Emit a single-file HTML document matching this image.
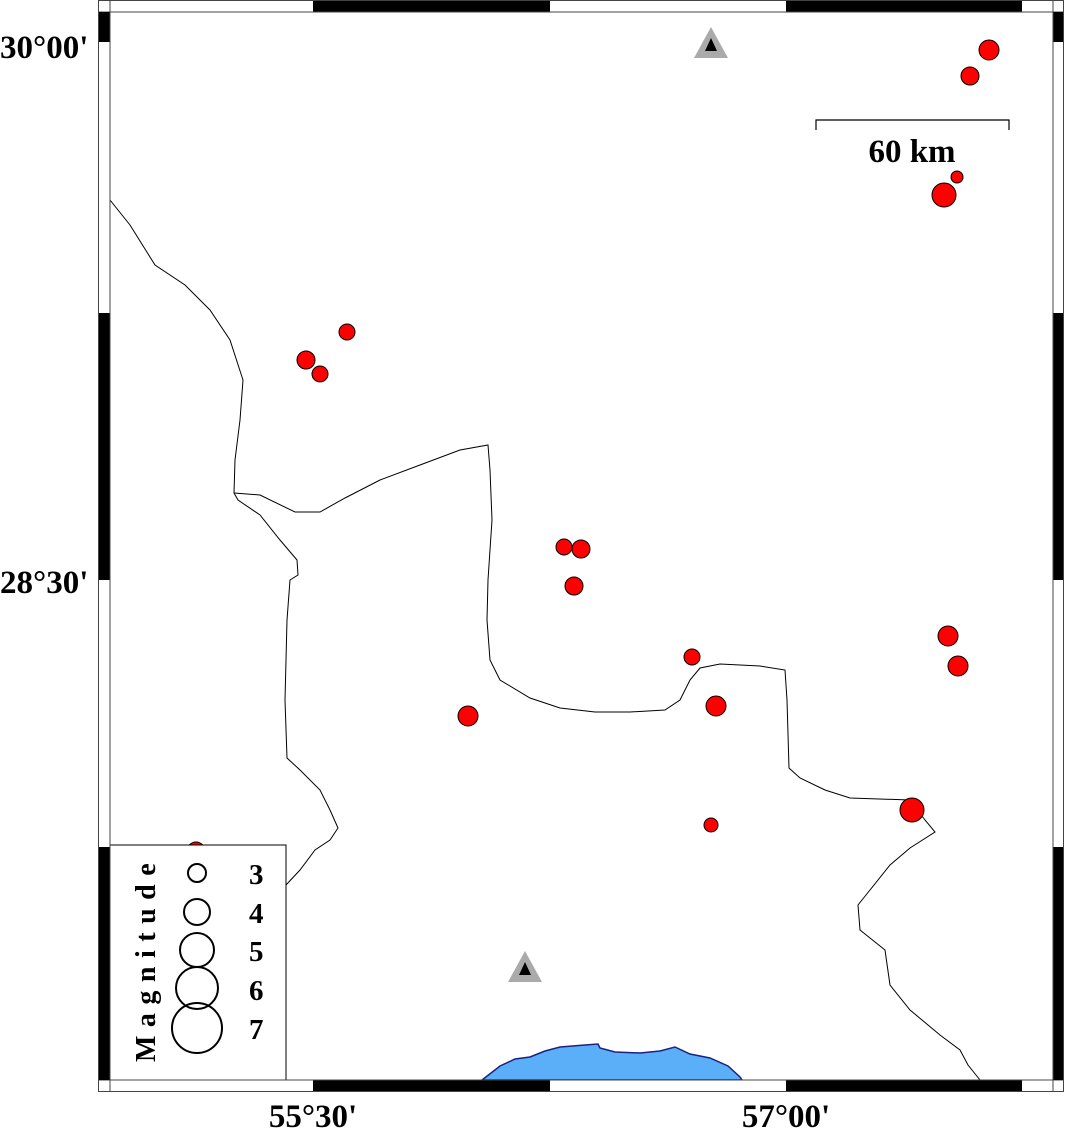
<!DOCTYPE html>
<html><head><meta charset="utf-8"><style>
html,body{margin:0;padding:0;background:#fff;}
svg{display:block;}
text{font-family:"Liberation Serif",serif;font-weight:bold;fill:#000;}
</style></head><body>
<svg width="1066" height="1130" viewBox="0 0 1066 1130" xmlns="http://www.w3.org/2000/svg">
<path d="M482,1080 L500,1066 L515,1059 L530,1057 L545,1051 L560,1047 L585,1045 L598,1044 L600,1048 L615,1052 L640,1053 L660,1051 L675,1047 L690,1054 L710,1058 L728,1066 L740,1077 L742,1080 Z" fill="#5aaff8" stroke="#1a237e" stroke-width="1.5"/>
<polyline fill="none" stroke="#000" stroke-width="1" points="110,200 130,225 155,265 185,285 210,310 230,340 243,380 240,420 235,460 234,493 238,500 260,515 280,540 297,560 298,575 290,580 287,620 285,700 287,758 300,770 320,790 330,810 338,828 330,840 315,850 300,870 286,885"/>
<polyline fill="none" stroke="#000" stroke-width="1" points="234,493 260,495 295,512 320,512 345,498 380,480 420,465 460,450 488,445 490,470 492,520 488,580 487,620 490,660 500,680 530,698 560,708 595,712 630,712 665,710 680,700 690,680 700,668 720,664 760,666 785,670 787,700 789,768 800,778 825,790 850,798 910,800 925,820 935,832 910,848 890,865 870,890 858,905 860,930 885,950 890,985 910,1010 940,1035 960,1050 968,1065 980,1080"/>
<g fill="#ff0000" stroke="#000" stroke-width="1">
<circle cx="196" cy="851" r="9"/>
<circle cx="989" cy="50" r="10"/><circle cx="970" cy="76" r="9"/>
<circle cx="957" cy="177" r="6"/><circle cx="944" cy="195" r="12"/>
<circle cx="347" cy="332" r="8"/><circle cx="306" cy="360" r="9"/><circle cx="320" cy="374" r="8"/>
<circle cx="564" cy="547" r="8"/><circle cx="581" cy="549" r="9"/><circle cx="574" cy="586" r="9"/>
<circle cx="948" cy="636" r="10"/><circle cx="958" cy="666" r="10"/>
<circle cx="692" cy="657" r="8"/><circle cx="716" cy="706" r="10"/><circle cx="468" cy="716" r="10"/>
<circle cx="912" cy="810" r="12"/><circle cx="711" cy="825" r="7"/>
</g>
<polygon points="711,27 694,58 728,58" fill="#aaa"/>
<polygon points="711,38 705,51 717,51" fill="#000"/>
<polygon points="525,951 508,982 542,982" fill="#aaa"/>
<polygon points="525,962 519,975 531,975" fill="#000"/>
<polyline points="816,130 816,120 1009,120 1009,130" fill="none" stroke="#000" stroke-width="1.2"/>
<text x="912" y="162" font-size="33" text-anchor="middle">60 km</text>
<rect x="110" y="845" width="176" height="235" fill="#fff" stroke="#000" stroke-width="1"/>
<g fill="none" stroke="#000" stroke-width="2">
<circle cx="197" cy="873" r="9"/><circle cx="197" cy="912" r="13"/><circle cx="197" cy="950" r="17"/>
<circle cx="197" cy="988" r="21"/><circle cx="197" cy="1028" r="25"/>
</g>
<g font-size="29"><text x="249" y="884">3</text><text x="249" y="923">4</text><text x="249" y="961">5</text><text x="249" y="1000">6</text><text x="249" y="1039">7</text></g>
<text transform="translate(155,1062) rotate(-90)" font-size="28" letter-spacing="8.5">Magnitude</text>
<g fill="#fff" stroke="#444" stroke-width="1">
<rect x="98.5" y="0.5" width="11.5" height="11.5"/><rect x="1053" y="0.5" width="10.5" height="11.5"/>
<rect x="98.5" y="1080" width="11.5" height="11.5"/><rect x="1053" y="1080" width="10.5" height="11.5"/>
<rect x="110" y="0.5" width="943" height="11.5"/><rect x="110" y="1080" width="943" height="11.5"/>
<rect x="98.5" y="12" width="11.5" height="1068"/><rect x="1053" y="12" width="10.5" height="1068"/>
</g>
<g fill="#000">
<rect x="313" y="1" width="237" height="11"/><rect x="786" y="1" width="236" height="11"/>
<rect x="313" y="1080" width="237" height="11"/><rect x="786" y="1080" width="236" height="11"/>
<rect x="99" y="12" width="11" height="30"/><rect x="99" y="313" width="11" height="267"/><rect x="99" y="847" width="11" height="233"/>
<rect x="1053" y="12" width="10" height="30"/><rect x="1053" y="313" width="10" height="267"/><rect x="1053" y="847" width="10" height="233"/>
</g>
<rect x="110" y="12" width="943" height="1068" fill="none" stroke="#444" stroke-width="1"/>
<g font-size="33">
<text x="0" y="58">30°00'</text>
<text x="0" y="593">28°30'</text>
<text x="313" y="1127" text-anchor="middle">55°30'</text>
<text x="786" y="1127" text-anchor="middle">57°00'</text>
</g>
</svg>
</body></html>
